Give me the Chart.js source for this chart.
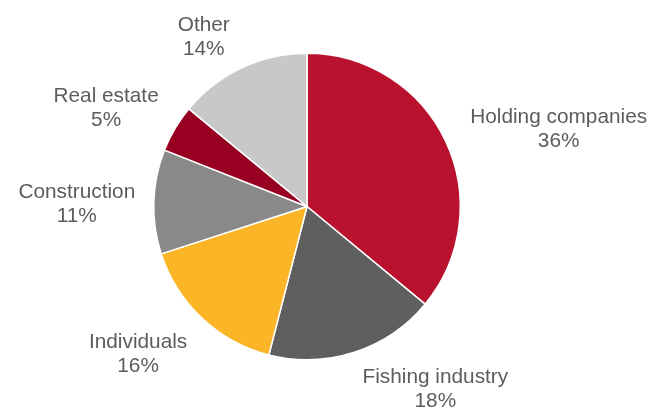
<!DOCTYPE html>
<html>
<head>
<meta charset="utf-8">
<script src="https://cdn.jsdelivr.net/npm/chart.js@4.4.1/dist/chart.umd.min.js"></script>
<style>
  html, body { margin: 0; padding: 0; background: #fff; }
  #wrap { width: 655px; height: 410px; }
</style>
</head>
<body>
<div id="wrap"><canvas id="pie" width="655" height="410"></canvas></div>
<script>
// sectors, clockwise from 12 o'clock
const categories = ['Holding companies', 'Fishing industry', 'Individuals', 'Construction', 'Real estate', 'Other'];
const shares = [36, 18, 16, 11, 5, 14];
const sliceColors = ['#BA122E', '#5F5F5F', '#FBB527', '#898989', '#970020', '#C8C8C8'];

// where each label sits relative to the outer edge of its slice (x of text centre, first baseline)
const labelShift = [[113, -18], [81, 31], [-64, 30], [-77, -4], [-69, -26], [-38, -37]];

const outsideLabels = {
  id: 'outsideLabels',
  afterDatasetsDraw(chart) {
    const ctx = chart.ctx;
    const meta = chart.getDatasetMeta(0);
    ctx.save();
    ctx.font = '20.8px "Liberation Sans", Arial, sans-serif';
    ctx.fillStyle = '#5c5c5c';
    ctx.textAlign = 'center';
    ctx.textBaseline = 'alphabetic';
    meta.data.forEach((arc, i) => {
      const p = arc.getProps(['x', 'y', 'startAngle', 'endAngle', 'outerRadius'], true);
      const mid = (p.startAngle + p.endAngle) / 2;
      const ex = p.x + Math.cos(mid) * p.outerRadius;
      const ey = p.y + Math.sin(mid) * p.outerRadius;
      const tx = ex + labelShift[i][0];
      const ty = ey + labelShift[i][1];
      ctx.fillText(categories[i], tx, ty);
      ctx.fillText(shares[i] + '%', tx, ty + 24);
    });
    ctx.restore();
  }
};

new Chart(document.getElementById('pie'), {
  type: 'pie',
  data: {
    labels: categories,
    datasets: [{
      data: shares,
      backgroundColor: sliceColors,
      borderColor: '#ffffff',
      borderWidth: 1.5
    }]
  },
  options: {
    responsive: false,
    animation: false,
    layout: { padding: { left: 153, right: 194, top: 52, bottom: 49 } },
    plugins: {
      legend: { display: false },
      tooltip: { enabled: false }
    }
  },
  plugins: [outsideLabels]
});
</script>
</body>
</html>
